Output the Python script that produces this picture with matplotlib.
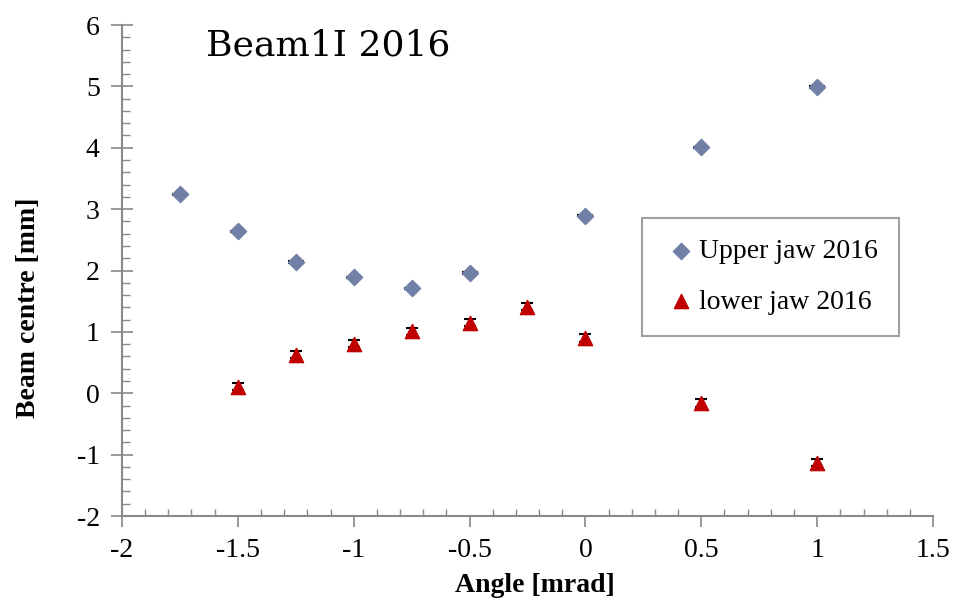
import matplotlib.pyplot as plt
from matplotlib.ticker import MultipleLocator

# beam centre scan, collimator angle vs. fitted centre
angle_upper = [-1.75, -1.5, -1.25, -1.0, -0.75, -0.5, 0.0, 0.5, 1.0]
centre_upper = [3.24, 2.64, 2.14, 1.89, 1.71, 1.96, 2.89, 4.01, 4.99]
err_upper = [0.01, 0.01, 0.01, 0.01, 0.01, 0.01, 0.01, 0.01, 0.01]

angle_lower = [-1.5, -1.25, -1.0, -0.75, -0.5, -0.25, 0.0, 0.5, 1.0]
centre_lower = [0.11, 0.63, 0.81, 1.01, 1.15, 1.41, 0.90, -0.16, -1.13]
err_lower = [0.06, 0.06, 0.06, 0.06, 0.06, 0.06, 0.06, 0.06, 0.06]

xticks = [-2, -1.5, -1, -0.5, 0, 0.5, 1, 1.5]
xtick_labels = ["-2", "-1.5", "-1", "-0.5", "0", "0.5", "1", "1.5"]
yticks = [-2, -1, 0, 1, 2, 3, 4, 5, 6]

plt.rcParams["font.family"] = ["Liberation Serif", "DejaVu Serif"]
axis_col = "#898989"

fig = plt.figure(figsize=(9.55, 6.01), dpi=100)
ax = fig.add_axes([0.1277, 0.1414, 0.8493, 0.817])

ax.errorbar(angle_upper, centre_upper, yerr=err_upper, fmt="none",
            ecolor="black", elinewidth=1, capsize=5.8, capthick=1.5, zorder=2)
ax.errorbar(angle_lower, centre_lower, yerr=err_lower, fmt="none",
            ecolor="black", elinewidth=1, capsize=4.5, capthick=1.5, zorder=2)
ax.scatter(angle_upper, centre_upper, marker="D", s=68, color="#7080a6",
           zorder=3, label="Upper jaw 2016")
ax.scatter(angle_lower, centre_lower, marker="^", s=105, color="#c00000",
           zorder=3, label="lower jaw 2016")

ax.set_xlim(-2, 1.5)
ax.set_ylim(-2, 6)
ax.set_xticks(xticks)
ax.set_xticklabels(xtick_labels)
ax.set_yticks(yticks)
ax.set_yticklabels([str(v) for v in yticks])
ax.xaxis.set_minor_locator(MultipleLocator(0.1))
ax.yaxis.set_minor_locator(MultipleLocator(0.2))

for s in ["top", "right"]:
    ax.spines[s].set_visible(False)
for s in ["left", "bottom"]:
    ax.spines[s].set_color(axis_col)
    ax.spines[s].set_linewidth(1.5)

ax.tick_params(axis="x", which="major", direction="out", length=8, width=1.2,
               color=axis_col, labelsize=20, pad=8)
ax.tick_params(axis="x", which="minor", direction="in", length=5, width=1,
               color=axis_col)
ax.tick_params(axis="y", which="major", direction="inout", length=16, width=1.2,
               color=axis_col, labelsize=20, pad=8)
ax.tick_params(axis="y", which="minor", direction="in", length=6, width=1,
               color=axis_col)

ax.set_xlabel("Angle [mrad]", fontsize=20, fontweight="bold")
ax.set_ylabel("Beam centre [mm]", fontsize=20, fontweight="bold")
ax.xaxis.set_label_coords(0.509, -0.116)
ax.yaxis.set_label_coords(-0.1, 0.424)

fig.text(0.216, 0.925, "Beam1I 2016", fontsize=26, va="center", ha="left",
         family=["DejaVu Serif"])

leg = ax.legend(loc="upper left", bbox_to_anchor=(0.641, 0.607),
                fontsize=20, frameon=True, fancybox=False, handletextpad=0.0,
                borderpad=0.75, labelspacing=0.9, handlelength=1.3,
                borderaxespad=0)
leg.get_frame().set_edgecolor(axis_col)
leg.get_frame().set_linewidth(1.5)

fig.savefig("out.png", dpi=100)
